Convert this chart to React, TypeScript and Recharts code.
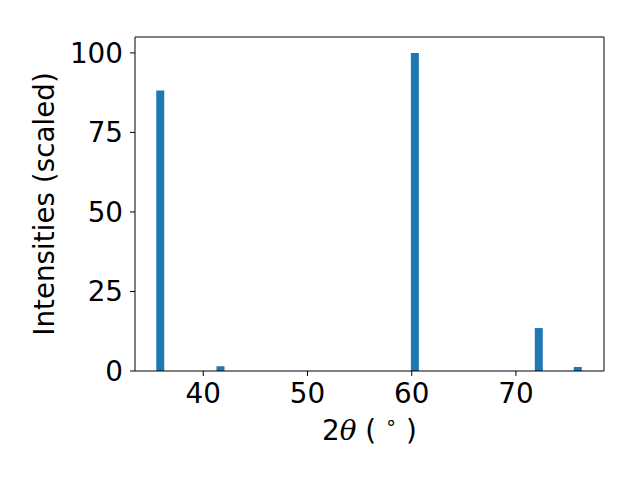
import React from 'react';
import { BarChart, Bar, XAxis, YAxis, ReferenceLine } from 'recharts';

const peakAngles = [35.92, 41.7, 60.35, 72.24, 75.98];
const peakIntensities = [88.2, 1.5, 100, 13.5, 1.25];
const xTicks = [40, 50, 60, 70];
const yTicks = [0, 25, 50, 75, 100];

const data = peakAngles.map((angle, i) => ({ angle, intensity: peakIntensities[i] }));

const X_DOMAIN: [number, number] = [33.45, 78.45];
const Y_DOMAIN: [number, number] = [0, 105];

const FONT = 'DejaVu Sans, sans-serif';
const FONT_SIZE = 27.8;
const BLUE = '#1f77b4';

const XLabel = (props: any) => {
    const { viewBox } = props;
    const cx = viewBox.x + viewBox.width / 2;
    return (
        <text x={cx} y={440} textAnchor="middle" fontFamily={FONT} fontSize={FONT_SIZE} fill="#000">
            <tspan>2</tspan>
            <tspan fontStyle="italic" fontFamily="DejaVu Serif, serif">θ</tspan>
            <tspan> ( </tspan>
            <tspan fontSize={FONT_SIZE * 0.7} dy={-11}>∘</tspan>
            <tspan dy={11}> )</tspan>
        </text>
    );
};

const YLabel = (props: any) => {
    const { viewBox } = props;
    const cy = viewBox.y + viewBox.height / 2;
    return (
        <text x={54} y={cy} transform={`rotate(-90, 54, ${cy})`} textAnchor="middle"
            fontFamily={FONT} fontSize={FONT_SIZE} fill="#000">
            Intensities (scaled)
        </text>
    );
};

const tickStyle = { fontFamily: FONT, fontSize: FONT_SIZE, fill: '#000' };

export default function App() {
    return (
        <div style={{ position: 'absolute', left: 0, top: 0, background: '#fff' }}>
            <BarChart width={640} height={480} data={data}
                margin={{ top: 37, right: 36, bottom: 0, left: 0 }}>
                <XAxis dataKey="angle" type="number" domain={X_DOMAIN} ticks={xTicks}
                    allowDataOverflow height={109} tickSize={5} tickMargin={7}
                    tick={tickStyle} stroke="#000" tickLine={{ stroke: '#000' }}
                    label={<XLabel />} />
                <YAxis type="number" domain={Y_DOMAIN} ticks={yTicks} width={135}
                    allowDataOverflow tickSize={5} tickMargin={7} tick={tickStyle} stroke="#000"
                    tickLine={{ stroke: '#000' }} label={<YLabel />} />
                <Bar dataKey="intensity" fill={BLUE} barSize={8} isAnimationActive={false} />
                <ReferenceLine y={Y_DOMAIN[1]} stroke="#000" ifOverflow="visible" />
                <ReferenceLine x={X_DOMAIN[1]} stroke="#000" ifOverflow="visible" />
            </BarChart>
        </div>
    );
}
